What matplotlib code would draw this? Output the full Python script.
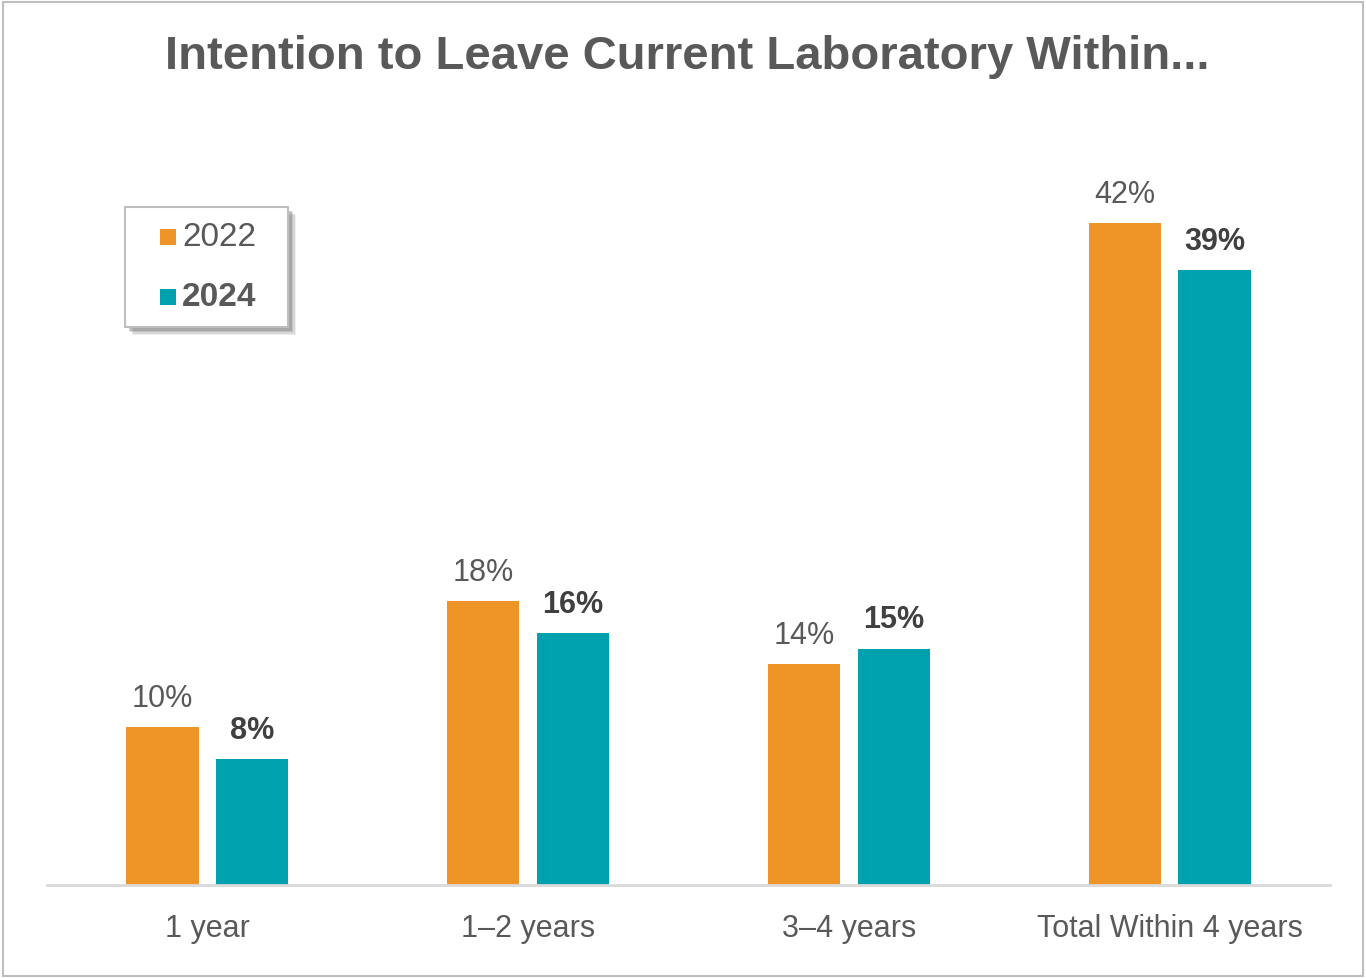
import matplotlib
matplotlib.use("Agg")
import matplotlib.pyplot as plt
from matplotlib.patches import Rectangle
import numpy as np

categories = ["1 year", "1\u20132 years", "3\u20134 years", "Total Within 4 years"]
series_names = ["2022", "2024"]
values_2022 = [10, 18, 14, 42]
values_2024 = [8, 16, 15, 39]

orange = "#EF9528"
teal = "#00A1AF"
text_col = "#595959"
font = ["Liberation Sans", "DejaVu Sans"]

W, H = 1366, 979
fig = plt.figure(figsize=(W / 100, H / 100), dpi=100)
fig.patches.append(Rectangle((0.002, 0.002), 0.996, 0.995, transform=fig.transFigure,
                             fill=False, edgecolor="#BFBFBF", linewidth=1.5))

ax = fig.add_axes([0.0344, 0.095, 0.9392, 0.7727])
x = np.arange(len(categories))
off = 0.14
w = 0.225
b1 = ax.bar(x - off, values_2022, w, color=orange, zorder=2)
b2 = ax.bar(x + off, values_2024, w, color=teal, zorder=2)

for rect, v in zip(b1, values_2022):
    ax.text(rect.get_x() + rect.get_width() / 2, v + 0.9, f"{v}%", ha="center", va="bottom",
            fontsize=22, color=text_col, family=font)
for rect, v in zip(b2, values_2024):
    ax.text(rect.get_x() + rect.get_width() / 2, v + 0.9, f"{v}%", ha="center", va="bottom",
            fontsize=22, color="#404040", fontweight="bold", family=font)

ax.set_xlim(-0.5, 3.5)
ax.set_ylim(0, 48)
ax.set_yticks([])
ax.set_xticks(x)
ax.set_xticklabels(categories, fontsize=22, color=text_col, family=font)
ax.tick_params(axis="x", length=0, pad=20)
for s in ["top", "right", "left"]:
    ax.spines[s].set_visible(False)
ax.spines["bottom"].set_color("#D9D9D9")
ax.spines["bottom"].set_linewidth(2)

fig.text(0.503, 0.942, "Intention to Leave Current Laboratory Within...", ha="center", va="center",
         fontsize=34, fontweight="bold", color=text_col, family=font)


# Legend box drawn in pixel coordinates (origin top-left), with a soft drop shadow
def px_rect(x0, y0, w_, h_, **kw):
    return Rectangle((x0 / W, 1 - (y0 + h_) / H), w_ / W, h_ / H, transform=fig.transFigure, **kw)


lx, ly, lw, lh = 125, 208, 163, 120
for i, a in enumerate([0.12, 0.16, 0.22, 0.30]):
    d = 8 - i * 1.3
    fig.patches.append(px_rect(lx + d, ly + d, lw, lh, facecolor="#6f6f6f", edgecolor="none",
                               alpha=a, zorder=5))
fig.patches.append(px_rect(lx, ly, lw, lh, facecolor="white", edgecolor="#BFBFBF",
                           linewidth=1.5, zorder=6))
for i, (name, col) in enumerate(zip(series_names, [orange, teal])):
    cy = 238 + 60 * i
    fig.patches.append(px_rect(160, cy - 8, 16, 16, facecolor=col, edgecolor="none", zorder=7))
    fig.text(182 / W, 1 - cy / H, name, ha="left", va="center", fontsize=24, color=text_col,
             family=font, fontweight="bold" if i == 1 else "normal", zorder=8)

fig.savefig("out.png", dpi=100)
